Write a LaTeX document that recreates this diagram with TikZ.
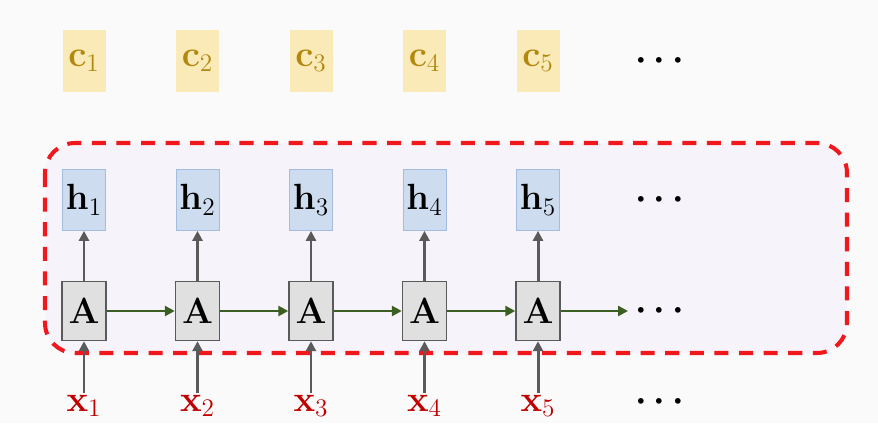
\documentclass[tikz,border=0pt]{standalone}
\usepackage{amsmath,bm}
\usetikzlibrary{arrows.meta}
\definecolor{bgcol}{HTML}{FAFAFA}
\definecolor{cfill}{HTML}{F9EAB8}
\definecolor{ctext}{HTML}{B3880E}
\definecolor{hfill}{HTML}{CEDCEF}
\definecolor{hline}{HTML}{A3BDE0}
\definecolor{afill}{HTML}{E0E0E0}
\definecolor{aline}{HTML}{5A5A5A}
\definecolor{xtext}{HTML}{C00000}
\definecolor{rnnfill}{HTML}{F7F3FA}
\definecolor{rnnline}{HTML}{F0181C}
\definecolor{stepgreen}{HTML}{3B5E22}
\begin{document}
\begin{tikzpicture}[
		bigfont/.style={font=\fontsize{21}{24}\selectfont},
		cbox/.style={bigfont,fill=cfill,text=ctext,minimum width=0.86cm,minimum height=1.22cm,inner sep=0pt},
		hbox/.style={bigfont,fill=hfill,draw=hline,thin,minimum width=0.86cm,minimum height=1.22cm,inner sep=0pt},
		abox/.style={bigfont,fill=afill,draw=aline,thick,minimum width=0.88cm,minimum height=1.18cm,inner sep=0pt},
		xlab/.style={bigfont,text=xtext,inner sep=1pt},
		dots/.style={font=\fontsize{22}{24}\selectfont},
		upline/.style={draw=aline,line width=1.7pt,-{Triangle[length=0.2cm,width=0.2cm]}},
		rightline/.style={draw=stepgreen,line width=1.7pt,-{Triangle[length=0.2cm,width=0.2cm]}}
	]
	\fill[bgcol] (0,0) rectangle (17.56,-8.46);
	\useasboundingbox (0,0) rectangle (17.56,-8.46);
	% the dashed frame round the recurrent layer
	\draw[rnnline,fill=rnnfill,line width=2.3pt,dash pattern=on 8pt off 6pt,rounded corners=0.6cm] (0.9,-2.86) rectangle (16.94,-7.06);
	% top row
	\node[cbox] (c1) at (1.68,-1.22) {$\mathbf{c}_1$};
	\node[cbox] (c2) at (3.95,-1.22) {$\mathbf{c}_2$};
	\node[cbox] (c3) at (6.22,-1.22) {$\mathbf{c}_3$};
	\node[cbox] (c4) at (8.49,-1.22) {$\mathbf{c}_4$};
	\node[cbox] (c5) at (10.76,-1.22) {$\mathbf{c}_5$};
	\node[dots] (cdots) at (13.26,-1.22) {$\bm\cdots$};
	% hidden states
	\node[hbox] (h1) at (1.68,-4.0) {$\mathbf{h}_1$};
	\node[hbox] (h2) at (3.95,-4.0) {$\mathbf{h}_2$};
	\node[hbox] (h3) at (6.22,-4.0) {$\mathbf{h}_3$};
	\node[hbox] (h4) at (8.49,-4.0) {$\mathbf{h}_4$};
	\node[hbox] (h5) at (10.76,-4.0) {$\mathbf{h}_5$};
	\node[dots] (hdots) at (13.26,-4.0) {$\bm\cdots$};
	% cells
	\node[abox] (a1) at (1.68,-6.22) {$\mathbf{A}$};
	\node[abox] (a2) at (3.95,-6.22) {$\mathbf{A}$};
	\node[abox] (a3) at (6.22,-6.22) {$\mathbf{A}$};
	\node[abox] (a4) at (8.49,-6.22) {$\mathbf{A}$};
	\node[abox] (a5) at (10.76,-6.22) {$\mathbf{A}$};
	\node[dots] (adots) at (13.26,-6.22) {$\bm\cdots$};
	\coordinate (aend) at (12.56,-6.22);
	% inputs
	\node[xlab,anchor=north] (x1) at (1.68,-7.86) {$\mathbf{x}_1$};
	\node[xlab,anchor=north] (x2) at (3.95,-7.86) {$\mathbf{x}_2$};
	\node[xlab,anchor=north] (x3) at (6.22,-7.86) {$\mathbf{x}_3$};
	\node[xlab,anchor=north] (x4) at (8.49,-7.86) {$\mathbf{x}_4$};
	\node[xlab,anchor=north] (x5) at (10.76,-7.86) {$\mathbf{x}_5$};
	\node[dots] (xdots) at (13.26,-8.04) {$\bm\cdots$};
	% connectors
	\draw[upline] (x1.north) -- (a1.south);
	\draw[upline] (x2.north) -- (a2.south);
	\draw[upline] (x3.north) -- (a3.south);
	\draw[upline] (x4.north) -- (a4.south);
	\draw[upline] (x5.north) -- (a5.south);
	\draw[upline] (a1.north) -- (h1.south);
	\draw[upline] (a2.north) -- (h2.south);
	\draw[upline] (a3.north) -- (h3.south);
	\draw[upline] (a4.north) -- (h4.south);
	\draw[upline] (a5.north) -- (h5.south);
	\draw[rightline] (a1.east) -- (a2.west);
	\draw[rightline] (a2.east) -- (a3.west);
	\draw[rightline] (a3.east) -- (a4.west);
	\draw[rightline] (a4.east) -- (a5.west);
	\draw[rightline] (a5.east) -- (aend);
\end{tikzpicture}
\end{document}
